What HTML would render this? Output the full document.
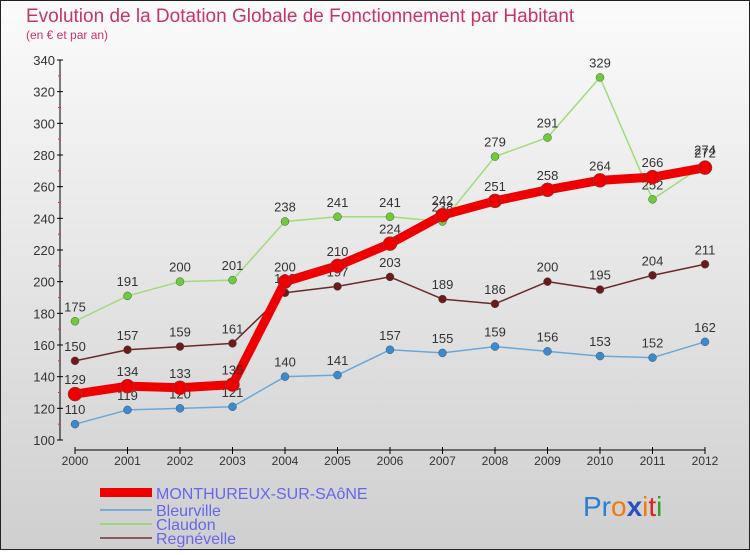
<!DOCTYPE html>
<html><head><meta charset="utf-8"><style>
body{margin:0;width:750px;height:550px;overflow:hidden;font-family:"Liberation Sans",sans-serif}
svg text{font-family:"Liberation Sans",sans-serif}
</style></head><body>
<svg id="c" width="750" height="550">
<defs><linearGradient id="bg" x1="0" y1="0" x2="0" y2="1"><stop offset="0" stop-color="#fbfbfb"/><stop offset="1" stop-color="#cfcfcf"/></linearGradient></defs>
<rect x="0.5" y="0.5" width="749" height="549" fill="url(#bg)" stroke="#222"/>
<text x="26" y="22" font-size="19" fill="#c8336a">Evolution de la Dotation Globale de Fonctionnement par Habitant</text>
<text x="26" y="39" font-size="12" fill="#c8336a">(en € et par an)</text>
<g id="axes"></g><g id="series"></g>
<g>
<rect x="100" y="488" width="52" height="9" fill="#e00"/>
<text x="156" y="499" font-size="16" fill="#6666ee">MONTHUREUX-SUR-SAôNE</text>
<rect x="100" y="509" width="52" height="2" fill="#7aaed0"/>
<text x="156" y="516" font-size="16" fill="#6666ee">Bleurville</text>
<rect x="100" y="523" width="52" height="2" fill="#9fd67a"/>
<text x="156" y="530" font-size="16" fill="#6666ee">Claudon</text>
<rect x="100" y="537" width="52" height="2" fill="#8a5a5a"/>
<text x="156" y="544" font-size="16" fill="#6666ee">Regnévelle</text>
</g>
<g font-size="28">
<text x="583" y="516"><tspan fill="#2a7fd4">Pr</tspan><tspan fill="#f07a10">o</tspan><tspan fill="#2a50c0" font-weight="bold">x</tspan><tspan fill="#f07a10">i</tspan><tspan fill="#e02020">t</tspan><tspan fill="#30a030">i</tspan></text>
</g>
</svg>
<script>
const years=["2000","2001","2002","2003","2004","2005","2006","2007","2008","2009","2010","2011","2012"];
const monthureux=[129,134,133,135,200,210,224,242,251,258,264,266,272];
const bleurville=[110,119,120,121,140,141,157,155,159,156,153,152,162];
const claudon=[175,191,200,201,238,241,241,238,279,291,329,252,274];
const regnevelle=[150,157,159,161,193,197,203,189,186,200,195,204,211];
const yTicks=[100,120,140,160,180,200,220,240,260,280,300,320,340];
const NS="http://www.w3.org/2000/svg";
const X=i=>75+i*52.5, Y=v=>440-(v-100)*380/240;
function mk(t,a,p){const e=document.createElementNS(NS,t);for(const k in a)e.setAttribute(k,a[k]);p.appendChild(e);return e;}
const ax=document.getElementById('axes');
let l=mk('line',{x1:60,y1:60,x2:60,y2:440,stroke:'#000'},ax);


yTicks.forEach((v,k)=>{mk('line',{x1:57,x2:63,y1:Y(v),y2:Y(v),stroke:'#000'},ax);
if(k<yTicks.length-1)mk('line',{x1:58,x2:61,y1:Y(v+10),y2:Y(v+10),stroke:'#e33'},ax);
const t=mk('text',{x:55,y:Y(v)+5,'text-anchor':'end','font-size':13,fill:'#333'},ax);t.textContent=v;

});
l=mk('line',{x1:75,y1:450,x2:705,y2:450,stroke:'#000'},ax);


years.forEach((y,i)=>{mk('line',{x1:X(i),x2:X(i),y1:447,y2:454,stroke:'#000'},ax);
const t=mk('text',{x:X(i),y:465,'text-anchor':'middle','font-size':12,fill:'#333'},ax);t.textContent=y;

});
const sg=document.getElementById('series');
function draw(data,name,color,w,r,fill){
const g=mk('g',{},sg);


const p=mk('polyline',{points:data.map((v,i)=>X(i)+','+Y(v)).join(' '),fill:'none',stroke:color,'stroke-width':w,'stroke-linejoin':'round'},g);


data.forEach((v,i)=>{const c=mk('circle',{cx:X(i),cy:Y(v),r:r,fill:fill,stroke:'#555','stroke-width':0.5},g);


const t=mk('text',{x:X(i),y:Y(v)-10,'text-anchor':'middle','font-size':13,fill:'#333'},g);t.textContent=v;

});}
draw(bleurville,'bleurville','#6aa8d8',1.5,4,'#3a8ad0');
draw(claudon,'claudon','#9fdc7a',1.5,4,'#6ccc3a');
draw(regnevelle,'regnevelle','#6a2a2a',1.5,4,'#6a1a1a');
draw(monthureux,'monthureux','#ee0000',9,7,'#ee0000');
</script>
</body></html>
